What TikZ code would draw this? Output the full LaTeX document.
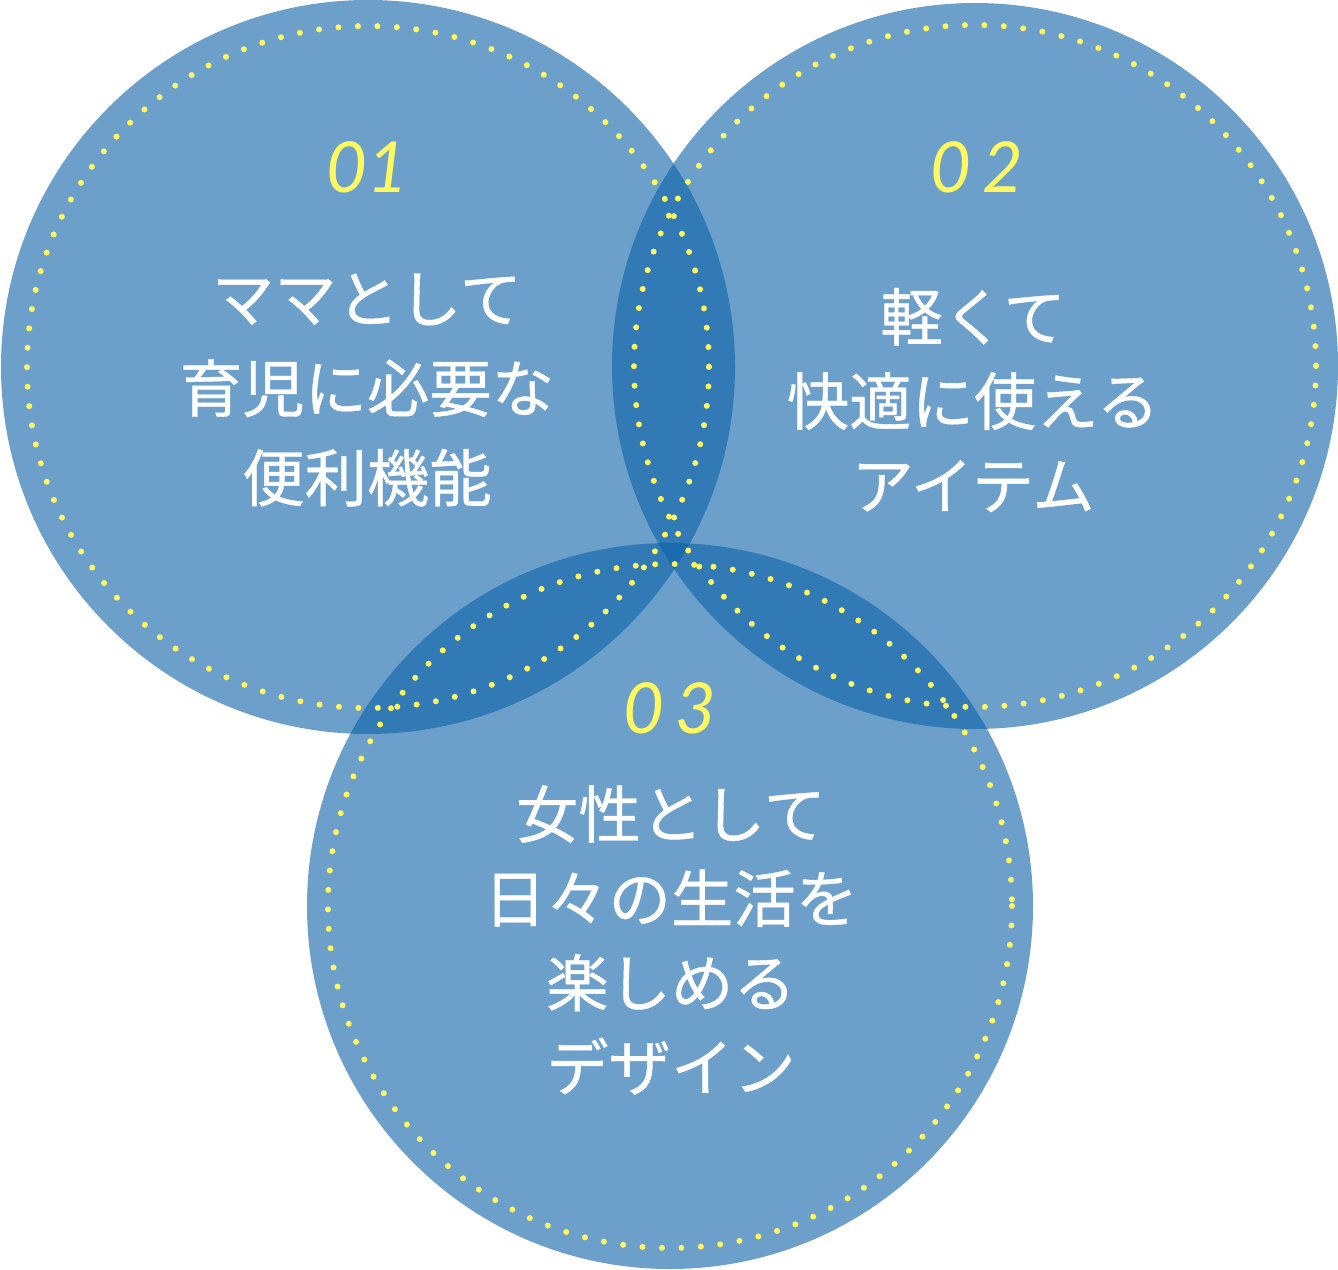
\documentclass[tikz,border=0pt]{standalone}
\usepackage{fontspec}
\setmainfont{Noto Sans CJK JP}[FakeBold=0.6]
\newfontfamily\numfont{Lato}
\definecolor{vennblue}{HTML}{0A61A7}
\definecolor{dotyellow}{HTML}{FFF85E}
\usetikzlibrary{positioning}

\begin{document}
\begin{tikzpicture}[x=0.02cm, y=-0.02cm,
  disc/.style={fill=vennblue, fill opacity=0.6},
  ring/.style={draw=dotyellow, line width=0.12cm, line cap=round,
               dash pattern=on 0pt off 0.3896cm},
  num/.style={text=dotyellow, font=\numfont\itshape\fontsize{40}{40}\selectfont},
  txt/.style={text=white, align=center, font=\fontsize{35.5}{48}\selectfont}]
  \useasboundingbox (0,0) rectangle (1338,1270);
  \coordinate (c1) at (368,367);
  \coordinate (c2) at (975,366);
  \coordinate (c3) at (670,906);
  \fill[disc] (c1) circle (367);
  \fill[disc] (c2) circle (363);
  \fill[disc] (c3) circle (363);
  % dotted rings
  \draw[ring] (c1) circle (341);
  \draw[ring] (c2) circle (341);
  \draw[ring] (c3) circle (342);
  % numbers
  \node[num] (n1) at (367,167) {01};
  \node[num] (n2) at (977,167) {0\,2};
  \node[num] (n3) at (670,708) {0\,3};
  % texts
  \node[txt, font=\fontsize{35.5}{51}\selectfont] (t1) at (367,390) {ママとして\\育児に必要な\\便利機能};
  \node[txt] (t2) at (973,400) {軽くて\\快適に使える\\アイテム};
  \node[txt] (t3) at (671,940) {女性として\\日々の生活を\\楽しめる\\デザイン};
\end{tikzpicture}
\end{document}
